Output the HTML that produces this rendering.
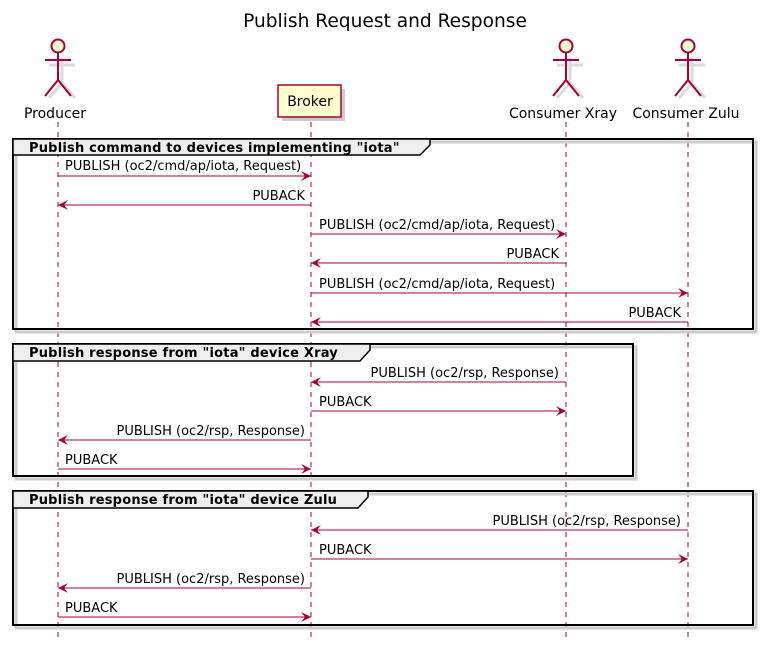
<!DOCTYPE html>
<html><head><style>body{margin:0;background:#fff}svg{display:block}</style></head><body>
<svg width="773" height="653" viewBox="0 0 773 653" xmlns="http://www.w3.org/2000/svg" font-family="DejaVu Sans, Liberation Sans, sans-serif">
<defs>
<marker id="ar" viewBox="0 0 10 10" refX="10" refY="5" markerWidth="10" markerHeight="10" markerUnits="userSpaceOnUse" orient="auto-start-reverse">
<path d="M0,0 L10,5 L0,10 L4,5 Z" fill="#A80036"/>
</marker>
</defs>
<text x="385" y="27" text-anchor="middle" font-size="18.6" fill="#000">Publish Request and Response</text>

<g stroke="#A80036" stroke-dasharray="5,5" stroke-width="1">
<line x1="58" y1="122" x2="58" y2="640"/>
<line x1="311" y1="122" x2="311" y2="640"/>
<line x1="566" y1="122" x2="566" y2="640"/>
<line x1="688" y1="122" x2="688" y2="640"/>
</g>

<g fill="none" stroke="#ccc" stroke-width="3" opacity="0.7">
<g transform="translate(62,50)"><line x1="0" y1="8" x2="0" y2="33"/><line x1="-13" y1="15" x2="13" y2="15"/><path d="M-13,48 L0,33 L13,48"/></g>
<g transform="translate(570,50)"><line x1="0" y1="8" x2="0" y2="33"/><line x1="-13" y1="15" x2="13" y2="15"/><path d="M-13,48 L0,33 L13,48"/></g>
<g transform="translate(692,50)"><line x1="0" y1="8" x2="0" y2="33"/><line x1="-13" y1="15" x2="13" y2="15"/><path d="M-13,48 L0,33 L13,48"/></g>
</g>
<g stroke="#A80036" stroke-width="2" fill="#FEFECE">
<g transform="translate(58,46)"><circle cx="0" cy="0" r="6.5"/><line x1="0" y1="7" x2="0" y2="34"/><line x1="-13" y1="14" x2="13" y2="14"/><path d="M-13,50 L0,34 L13,50" fill="none"/></g>
<g transform="translate(566,46)"><circle cx="0" cy="0" r="6.5"/><line x1="0" y1="7" x2="0" y2="34"/><line x1="-13" y1="14" x2="13" y2="14"/><path d="M-13,50 L0,34 L13,50" fill="none"/></g>
<g transform="translate(688,46)"><circle cx="0" cy="0" r="6.5"/><line x1="0" y1="7" x2="0" y2="34"/><line x1="-13" y1="14" x2="13" y2="14"/><path d="M-13,50 L0,34 L13,50" fill="none"/></g>
</g>
<g font-size="14" fill="#000" text-anchor="middle">
<text x="55" y="118">Producer</text>
<text x="563" y="118">Consumer Xray</text>
<text x="686" y="118">Consumer Zulu</text>
</g>
<rect x="282" y="89" width="63" height="32" fill="#ccc"/>
<rect x="278" y="85" width="63" height="32" fill="#FEFECE" stroke="#A80036" stroke-width="1.5"/>
<text x="310" y="106" font-size="14" text-anchor="middle">Broker</text>

<g fill="none" stroke-width="2">
<rect x="16" y="142" width="740" height="190" stroke="#ccc" stroke-width="3"/>
<rect x="13" y="139" width="740" height="190" stroke="#000"/>
<rect x="16" y="347" width="620" height="132" stroke="#ccc" stroke-width="3"/>
<rect x="13" y="344" width="620" height="132" stroke="#000"/>
<rect x="16" y="494" width="740" height="134" stroke="#ccc" stroke-width="3"/>
<rect x="13" y="491" width="740" height="134" stroke="#000"/>
</g>
<g fill="#EEEEEE" stroke="#000" stroke-width="1.5">
<path d="M13,139 L430,139 L430,145 L420,155 L13,155 Z"/>
<path d="M13,344 L370,344 L370,350 L360,361 L13,361 Z"/>
<path d="M13,491 L368,491 L368,497 L358,508 L13,508 Z"/>
</g>
<g font-size="13" font-weight="bold" fill="#000" letter-spacing="0.2">
<text x="29" y="152">Publish command to devices implementing "iota"</text>
<text x="29" y="357">Publish response from "iota" device Xray</text>
<text x="29" y="504">Publish response from "iota" device Zulu</text>
</g>

<g stroke="#A80036" stroke-width="1" marker-end="url(#ar)">
<line x1="58" y1="176" x2="311" y2="176"/>
<line x1="311" y1="205" x2="58" y2="205"/>
<line x1="311" y1="234" x2="566" y2="234"/>
<line x1="566" y1="263" x2="311" y2="263"/>
<line x1="311" y1="293" x2="688" y2="293"/>
<line x1="688" y1="322" x2="311" y2="322"/>
<line x1="566" y1="382" x2="311" y2="382"/>
<line x1="311" y1="411" x2="566" y2="411"/>
<line x1="311" y1="440" x2="58" y2="440"/>
<line x1="58" y1="469" x2="311" y2="469"/>
<line x1="688" y1="530" x2="311" y2="530"/>
<line x1="311" y1="559" x2="688" y2="559"/>
<line x1="311" y1="588" x2="58" y2="588"/>
<line x1="58" y1="617" x2="311" y2="617"/>
</g>
<g font-size="13" fill="#000">
<text x="65" y="170">PUBLISH (oc2/cmd/ap/iota, Request)</text>
<text x="305" y="200" text-anchor="end">PUBACK</text>
<text x="319" y="229">PUBLISH (oc2/cmd/ap/iota, Request)</text>
<text x="559" y="258" text-anchor="end">PUBACK</text>
<text x="319" y="288">PUBLISH (oc2/cmd/ap/iota, Request)</text>
<text x="681" y="317" text-anchor="end">PUBACK</text>
<text x="559" y="377" text-anchor="end">PUBLISH (oc2/rsp, Response)</text>
<text x="319" y="406">PUBACK</text>
<text x="305" y="435" text-anchor="end">PUBLISH (oc2/rsp, Response)</text>
<text x="65" y="464">PUBACK</text>
<text x="681" y="525" text-anchor="end">PUBLISH (oc2/rsp, Response)</text>
<text x="319" y="554">PUBACK</text>
<text x="305" y="583" text-anchor="end">PUBLISH (oc2/rsp, Response)</text>
<text x="65" y="612">PUBACK</text>
</g>
</svg>
</body></html>
